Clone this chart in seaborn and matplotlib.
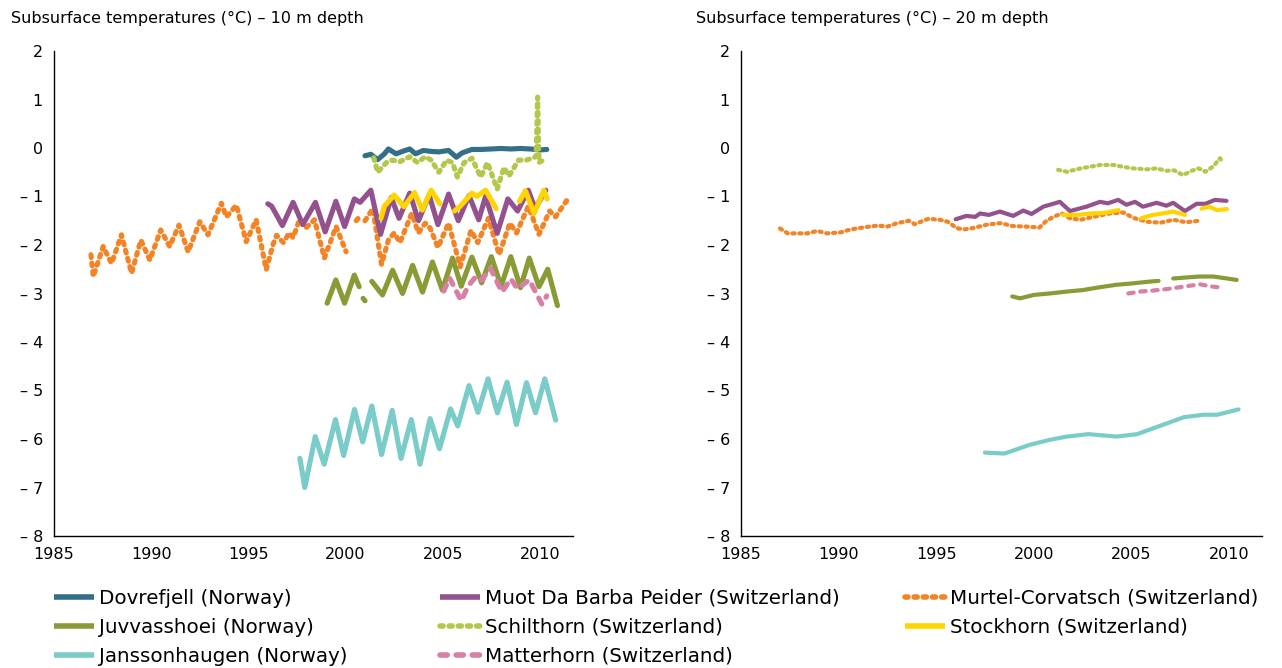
import numpy as np
import pandas as pd
import matplotlib
matplotlib.use("Agg")
import matplotlib.pyplot as plt
from matplotlib.lines import Line2D
import seaborn as sns

NA = np.nan

# --------------------------------------------------------------------------- #
# 10 m depth (left panel) -- NA marks a gap in the record
# --------------------------------------------------------------------------- #
dovre10_year = [2001.0, 2001.3, 2001.65, 2002.0, 2002.2, 2002.6, 2003.0, 2003.3, 2003.6,
                2004.0, 2004.4, 2004.8, 2005.3, 2005.7, 2006.0, 2006.5, 2007.0, 2007.5,
                2008.0, 2008.5, 2009.0, 2009.5, 2010.0, 2010.35]
dovre10_temp = [-0.16, -0.13, -0.24, -0.12, -0.02, -0.12, -0.06, -0.02, -0.12,
                -0.05, -0.07, -0.08, -0.05, -0.19, -0.1, -0.03, -0.03, -0.02,
                -0.01, -0.02, -0.01, -0.02, -0.04, -0.03]

schilt10_year = [2001.45, 2001.65, 2002.1, 2002.4, 2002.8, 2003.3, 2003.7, 2004.1, 2004.4,
                 2004.8, 2005.2, 2005.5, 2005.75, 2006.1, 2006.5, 2006.95, 2007.3, 2007.8,
                 2008.15, 2008.4, 2008.9, 2009.3, 2009.8, 2009.88, 2009.95, 2010.3]
schilt10_temp = [-0.2, -0.5, -0.3, -0.25, -0.28, -0.18, -0.3, -0.18, -0.25,
                 -0.5, -0.25, -0.3, -0.6, -0.3, -0.21, -0.6, -0.3, -0.85,
                 -0.4, -0.58, -0.25, -0.25, -0.18, 1.05, -0.3, -0.22]

muot10_year = [1996.0, 1996.2, 1996.75, 1997.3, 1997.8, 1998.45, 1998.95, 1999.5, 1999.95,
               2000.45, 2000.75, 2001.3, 2001.8, 2002.35, 2002.75, 2003.3, 2003.75, 2004.3,
               2004.75, 2005.3, 2005.8, 2006.35, 2006.85, 2007.2, 2007.8, 2008.35, 2008.85,
               2009.4, 2009.75, 2010.3]
muot10_temp = [-1.15, -1.2, -1.6, -1.12, -1.58, -1.12, -1.73, -1.1, -1.62,
               -1.05, -1.12, -0.87, -1.78, -1.02, -1.45, -0.93, -1.5, -0.97,
               -1.58, -0.95, -1.5, -0.98, -1.48, -1.0, -1.76, -1.05, -1.3,
               -0.87, -1.25, -0.87]

stock10_year = [2001.82, 2002.0, 2002.5, 2003.0, 2003.55, 2003.95, 2004.4, 2004.85, NA,
                2005.6, 2005.9, 2006.5, 2006.75, 2007.2, 2007.75, NA,
                2008.95, 2009.25, 2009.7, 2010.2, 2010.37]
stock10_temp = [-1.45, -1.2, -0.97, -1.21, -0.92, -1.28, -0.87, -1.15, NA,
                -1.3, -1.2, -0.93, -1.0, -0.87, -1.25, NA,
                -1.1, -0.88, -1.35, -0.87, -1.05]

murtel10_year = [1986.9, 1987.02, 1987.53, 1987.96, 1988.47, 1988.99, 1989.47, 1989.93,
                 1990.49, 1990.95, 1991.43, 1991.9, 1992.5, 1992.92, 1993.61, 1993.87,
                 1994.38, 1994.89, 1995.4, 1995.92, 1996.26, 1996.45, 1996.8, 1997.1,
                 1997.3, 1997.63, 1997.95, 1998.4, 1998.91, 1999.51, 2000.03, NA,
                 2000.55, 2000.65, NA,
                 2001.0, 2001.4, 2001.85, 2002.2, 2002.5, 2002.8, 2003.4, 2003.75, 2004.1,
                 2004.35, 2004.75, 2005.3, 2005.9, 2006.45, 2006.8, 2007.35, 2007.9,
                 2008.45, 2008.8, 2009.4, 2009.95, 2010.5, 2010.8, 2011.4]
murtel10_temp = [-2.2, -2.65, -2.03, -2.38, -1.79, -2.58, -1.9, -2.31,
                 -1.69, -2.03, -1.59, -2.14, -1.52, -1.79, -1.14, -1.42,
                 -1.18, -1.93, -1.48, -2.51, -2.0, -1.8, -1.95, -1.75,
                 -1.85, -1.48, -1.65, -1.48, -2.27, -1.62, -2.14, NA,
                 -1.5, -1.45, NA,
                 -1.5, -1.25, -2.4, -1.9, -1.75, -1.95, -1.35, -1.75, -1.55,
                 -1.65, -2.05, -1.55, -2.45, -1.7, -1.95, -1.45, -2.2,
                 -1.55, -1.75, -1.2, -1.78, -1.3, -1.42, -1.07]

juvv10_year = [1999.05, 1999.5, 1999.95, 2000.45, 2000.7, NA, 2000.9, 2001.0, NA,
               2001.35, 2001.9, 2002.42, 2002.93, 2003.45, 2003.96, 2004.47, 2004.98,
               2005.5, 2005.95, 2006.5, 2007.0, 2007.5, 2008.0, 2008.5, 2009.0,
               2009.45, 2009.95, 2010.4, 2010.9]
juvv10_temp = [-3.2, -2.72, -3.2, -2.62, -2.86, NA, -3.1, -3.15, NA,
               -2.75, -3.03, -2.52, -3.0, -2.42, -2.97, -2.35, -2.93,
               -2.27, -2.85, -2.25, -2.78, -2.24, -2.85, -2.24, -2.88,
               -2.27, -2.86, -2.5, -3.25]

matter10_year = [2005.05, 2005.35, 2005.95, 2006.3, 2006.7, 2007.0, 2007.45, 2008.05,
                 2008.5, 2008.85, 2009.45, 2010.1, 2010.35]
matter10_temp = [-2.95, -2.68, -3.15, -2.85, -2.65, -2.72, -2.48, -2.97,
                 -2.7, -2.9, -2.72, -3.22, -3.05]

jans10_year = [1997.65, 1997.9, 1998.44, 1998.9, 1999.48, 1999.9, 2000.46, 2000.88,
               2001.35, 2001.85, 2002.4, 2002.85, 2003.38, 2003.83, 2004.35, 2004.83,
               2005.4, 2005.77, 2006.35, 2006.81, 2007.33, 2007.81, 2008.31, 2008.79,
               2009.31, 2009.77, 2010.25, 2010.81]
jans10_temp = [-6.4, -7.0, -5.95, -6.52, -5.6, -6.34, -5.39, -6.06,
               -5.32, -6.32, -5.41, -6.4, -5.6, -6.52, -5.58, -6.2,
               -5.38, -5.73, -4.9, -5.45, -4.76, -5.46, -4.83, -5.7,
               -4.84, -5.46, -4.76, -5.61]

# --------------------------------------------------------------------------- #
# 20 m depth (right panel)
# --------------------------------------------------------------------------- #
murtel20_year = [1987.0, 1987.4, 1988.4, 1988.9, 1989.4, 1990.1, 1990.6, 1991.4, 1992.0,
                 1992.5, 1993.0, 1993.6, 1993.9, 1994.6, 1995.2, 1995.6, 1996.05, 1996.4,
                 1996.9, 1997.6, 1998.3, 1998.95, 1999.6, 2000.3, 2000.6, 2001.0, 2001.45,
                 2001.85, 2002.4, 2003.05, 2003.9, 2004.6, 2005.1, 2005.8, 2006.5, 2007.15,
                 2007.8, 2008.5]
murtel20_temp = [-1.66, -1.76, -1.76, -1.71, -1.76, -1.74, -1.68, -1.63, -1.6,
                 -1.62, -1.55, -1.5, -1.57, -1.46, -1.48, -1.52, -1.65, -1.68,
                 -1.65, -1.58, -1.55, -1.61, -1.62, -1.64, -1.52, -1.42, -1.35,
                 -1.45, -1.48, -1.42, -1.35, -1.33, -1.44, -1.52, -1.54, -1.48,
                 -1.53, -1.5]

muot20_year = [1996.0, 1996.55, 1997.0, 1997.25, 1997.7, 1998.27, 1998.95, 1999.47, 1999.89,
               2000.49, 2001.34, 2001.86, 2002.7, 2003.4, 2003.8, 2004.33, 2004.75, 2005.19,
               2005.6, 2006.3, 2006.8, 2007.15, 2007.75, 2008.35, 2008.8, 2009.28, 2009.88]
muot20_temp = [-1.47, -1.4, -1.42, -1.35, -1.38, -1.31, -1.4, -1.29, -1.36,
               -1.21, -1.11, -1.3, -1.21, -1.11, -1.14, -1.07, -1.17, -1.11,
               -1.21, -1.13, -1.19, -1.13, -1.3, -1.15, -1.15, -1.07, -1.09]

stock20_year = [2001.5, 2002.2, 2002.9, 2003.6, 2004.35, NA,
                2005.5, 2006.1, 2006.6, 2007.15, 2007.75, NA,
                2008.6, 2009.0, 2009.4, 2009.9]
stock20_temp = [-1.38, -1.38, -1.35, -1.34, -1.28, NA,
                -1.45, -1.38, -1.35, -1.31, -1.38, NA,
                -1.25, -1.21, -1.28, -1.26]

schilt20_year = [2001.25, 2001.7, 2002.4, 2003.4, 2004.1, 2004.6, 2005.1, 2005.8, 2006.3,
                 2006.8, 2007.2, 2007.65, 2008.1, 2008.45, 2008.8, 2009.2, 2009.55, 2009.7]
schilt20_temp = [-0.45, -0.49, -0.42, -0.35, -0.35, -0.39, -0.42, -0.44, -0.42,
                 -0.47, -0.46, -0.56, -0.47, -0.42, -0.49, -0.38, -0.21, -0.32]

juvv20_year = [1998.9, 1999.3, 2000.0, 2000.8, 2001.7, 2002.5, 2003.4, 2004.25, 2005.1,
               2005.8, 2006.4, NA, 2007.15, 2007.8, 2008.5, 2009.2, 2009.9, 2010.4]
juvv20_temp = [-3.06, -3.1, -3.03, -3.0, -2.96, -2.93, -2.87, -2.82, -2.79,
               -2.76, -2.74, NA, -2.69, -2.67, -2.65, -2.65, -2.69, -2.72]

matter20_year = [2004.85, 2005.45, 2006.1, 2006.8, 2007.5, 2008.5, 2009.2, 2009.7]
matter20_temp = [-3.0, -2.96, -2.94, -2.91, -2.87, -2.81, -2.86, -2.88]

jans20_year = [1997.5, 1998.5, 1999.8, 2000.8, 2001.7, 2002.8, 2004.25, 2005.3, 2006.6,
               2007.7, 2008.7, 2009.4, 2010.5]
jans20_temp = [-6.28, -6.3, -6.12, -6.02, -5.95, -5.9, -5.95, -5.9, -5.71,
               -5.55, -5.5, -5.5, -5.39]

# --------------------------------------------------------------------------- #
# Estilo
# --------------------------------------------------------------------------- #
DOTS = (0, (0.55, 1.1))
DASH = (0, (1.3, 1.6))
STATIONS = {
    "Dovrefjell (Norway)": ("#336f86", "-"),
    "Juvvasshoei (Norway)": ("#889b37", "-"),
    "Janssonhaugen (Norway)": ("#79ccc7", "-"),
    "Muot Da Barba Peider (Switzerland)": ("#93528e", "-"),
    "Schilthorn (Switzerland)": ("#b3c84a", DOTS),
    "Matterhorn (Switzerland)": ("#d97ea4", DASH),
    "Murtel-Corvatsch (Switzerland)": ("#f38425", DOTS),
    "Stockhorn (Switzerland)": ("#ffd400", "-"),
}

# draw order (bottom -> top)
panel10 = [
    ("Murtel-Corvatsch (Switzerland)", murtel10_year, murtel10_temp),
    ("Juvvasshoei (Norway)", juvv10_year, juvv10_temp),
    ("Matterhorn (Switzerland)", matter10_year, matter10_temp),
    ("Janssonhaugen (Norway)", jans10_year, jans10_temp),
    ("Muot Da Barba Peider (Switzerland)", muot10_year, muot10_temp),
    ("Dovrefjell (Norway)", dovre10_year, dovre10_temp),
    ("Schilthorn (Switzerland)", schilt10_year, schilt10_temp),
    ("Stockhorn (Switzerland)", stock10_year, stock10_temp),
]
panel20 = [
    ("Murtel-Corvatsch (Switzerland)", murtel20_year, murtel20_temp),
    ("Juvvasshoei (Norway)", juvv20_year, juvv20_temp),
    ("Matterhorn (Switzerland)", matter20_year, matter20_temp),
    ("Janssonhaugen (Norway)", jans20_year, jans20_temp),
    ("Muot Da Barba Peider (Switzerland)", muot20_year, muot20_temp),
    ("Schilthorn (Switzerland)", schilt20_year, schilt20_temp),
    ("Stockhorn (Switzerland)", stock20_year, stock20_temp),
]


def segments(years, temps):
    """Quebra a série nos NA para não ligar os buracos do registro."""
    df = pd.DataFrame({"year": years, "temp": temps})
    seg_id = df["year"].isna().cumsum()
    return [g.dropna() for _, g in df.groupby(seg_id) if len(g.dropna()) > 1]


def draw_panel(ax, series, lw):
    for name, years, temps in series:
        color, ls = STATIONS[name]
        for seg in segments(years, temps):
            sns.lineplot(data=seg, x="year", y="temp", ax=ax, color=color,
                         linewidth=lw, linestyle=ls, estimator=None, sort=False,
                         dash_capstyle="round", solid_capstyle="round",
                         solid_joinstyle="round")
    ax.set_xlim(1985, 2011.7)
    ax.set_ylim(-8, 2)
    ax.set_xticks(range(1985, 2011, 5))
    yt = list(range(-8, 3))
    ax.set_yticks(yt)
    ax.set_yticklabels([f"\u2013 {abs(v)}" if v < 0 else str(v) for v in yt])
    ax.set_xlabel("")
    ax.set_ylabel("")
    ax.tick_params(direction="out", length=5, width=1, colors="black",
                   labelcolor="black", labelsize=11.5, pad=3)
    sns.despine(ax=ax)
    for sp in ("left", "bottom"):
        ax.spines[sp].set_color("black")
        ax.spines[sp].set_linewidth(1)


sns.set_theme(style="white")
plt.rcParams["font.family"] = ["DejaVu Sans"]
plt.rcParams["text.color"] = "black"

W, H = 1282, 668
fig = plt.figure(figsize=(W / 100, H / 100), dpi=100)
ax1 = fig.add_axes([54 / W, 1 - 536 / H, 519 / W, 485 / H])
ax2 = fig.add_axes([741 / W, 1 - 536 / H, 521 / W, 485 / H])

draw_panel(ax1, panel10, lw=3.7)
draw_panel(ax2, panel20, lw=3.0)

fig.text(11 / W, 1 - 18 / H, "Subsurface temperatures (\u00b0C) \u2013 10 m depth",
         fontsize=11.5, va="center", ha="left", color="black")
fig.text(696 / W, 1 - 18 / H, "Subsurface temperatures (\u00b0C) \u2013 20 m depth",
         fontsize=11.5, va="center", ha="left", color="black")

# legenda em três colunas, posicionadas à mão
columns = [
    (54, ["Dovrefjell (Norway)", "Juvvasshoei (Norway)", "Janssonhaugen (Norway)"]),
    (440, ["Muot Da Barba Peider (Switzerland)", "Schilthorn (Switzerland)",
           "Matterhorn (Switzerland)"]),
    (905, ["Murtel-Corvatsch (Switzerland)", "Stockhorn (Switzerland)"]),
]
for x0, names in columns:
    handles = [Line2D([], [], color=STATIONS[n][0], linestyle=STATIONS[n][1],
                      linewidth=4, dash_capstyle="round", solid_capstyle="butt")
               for n in names]
    fig.legend(handles, names, loc="upper left", bbox_to_anchor=(x0 / W, 1 - 589 / H),
               frameon=False, fontsize=14.3, handlelength=2.0, handletextpad=0.25,
               labelspacing=0.5, borderpad=0, borderaxespad=0)

fig.savefig("out.png", dpi=100)
